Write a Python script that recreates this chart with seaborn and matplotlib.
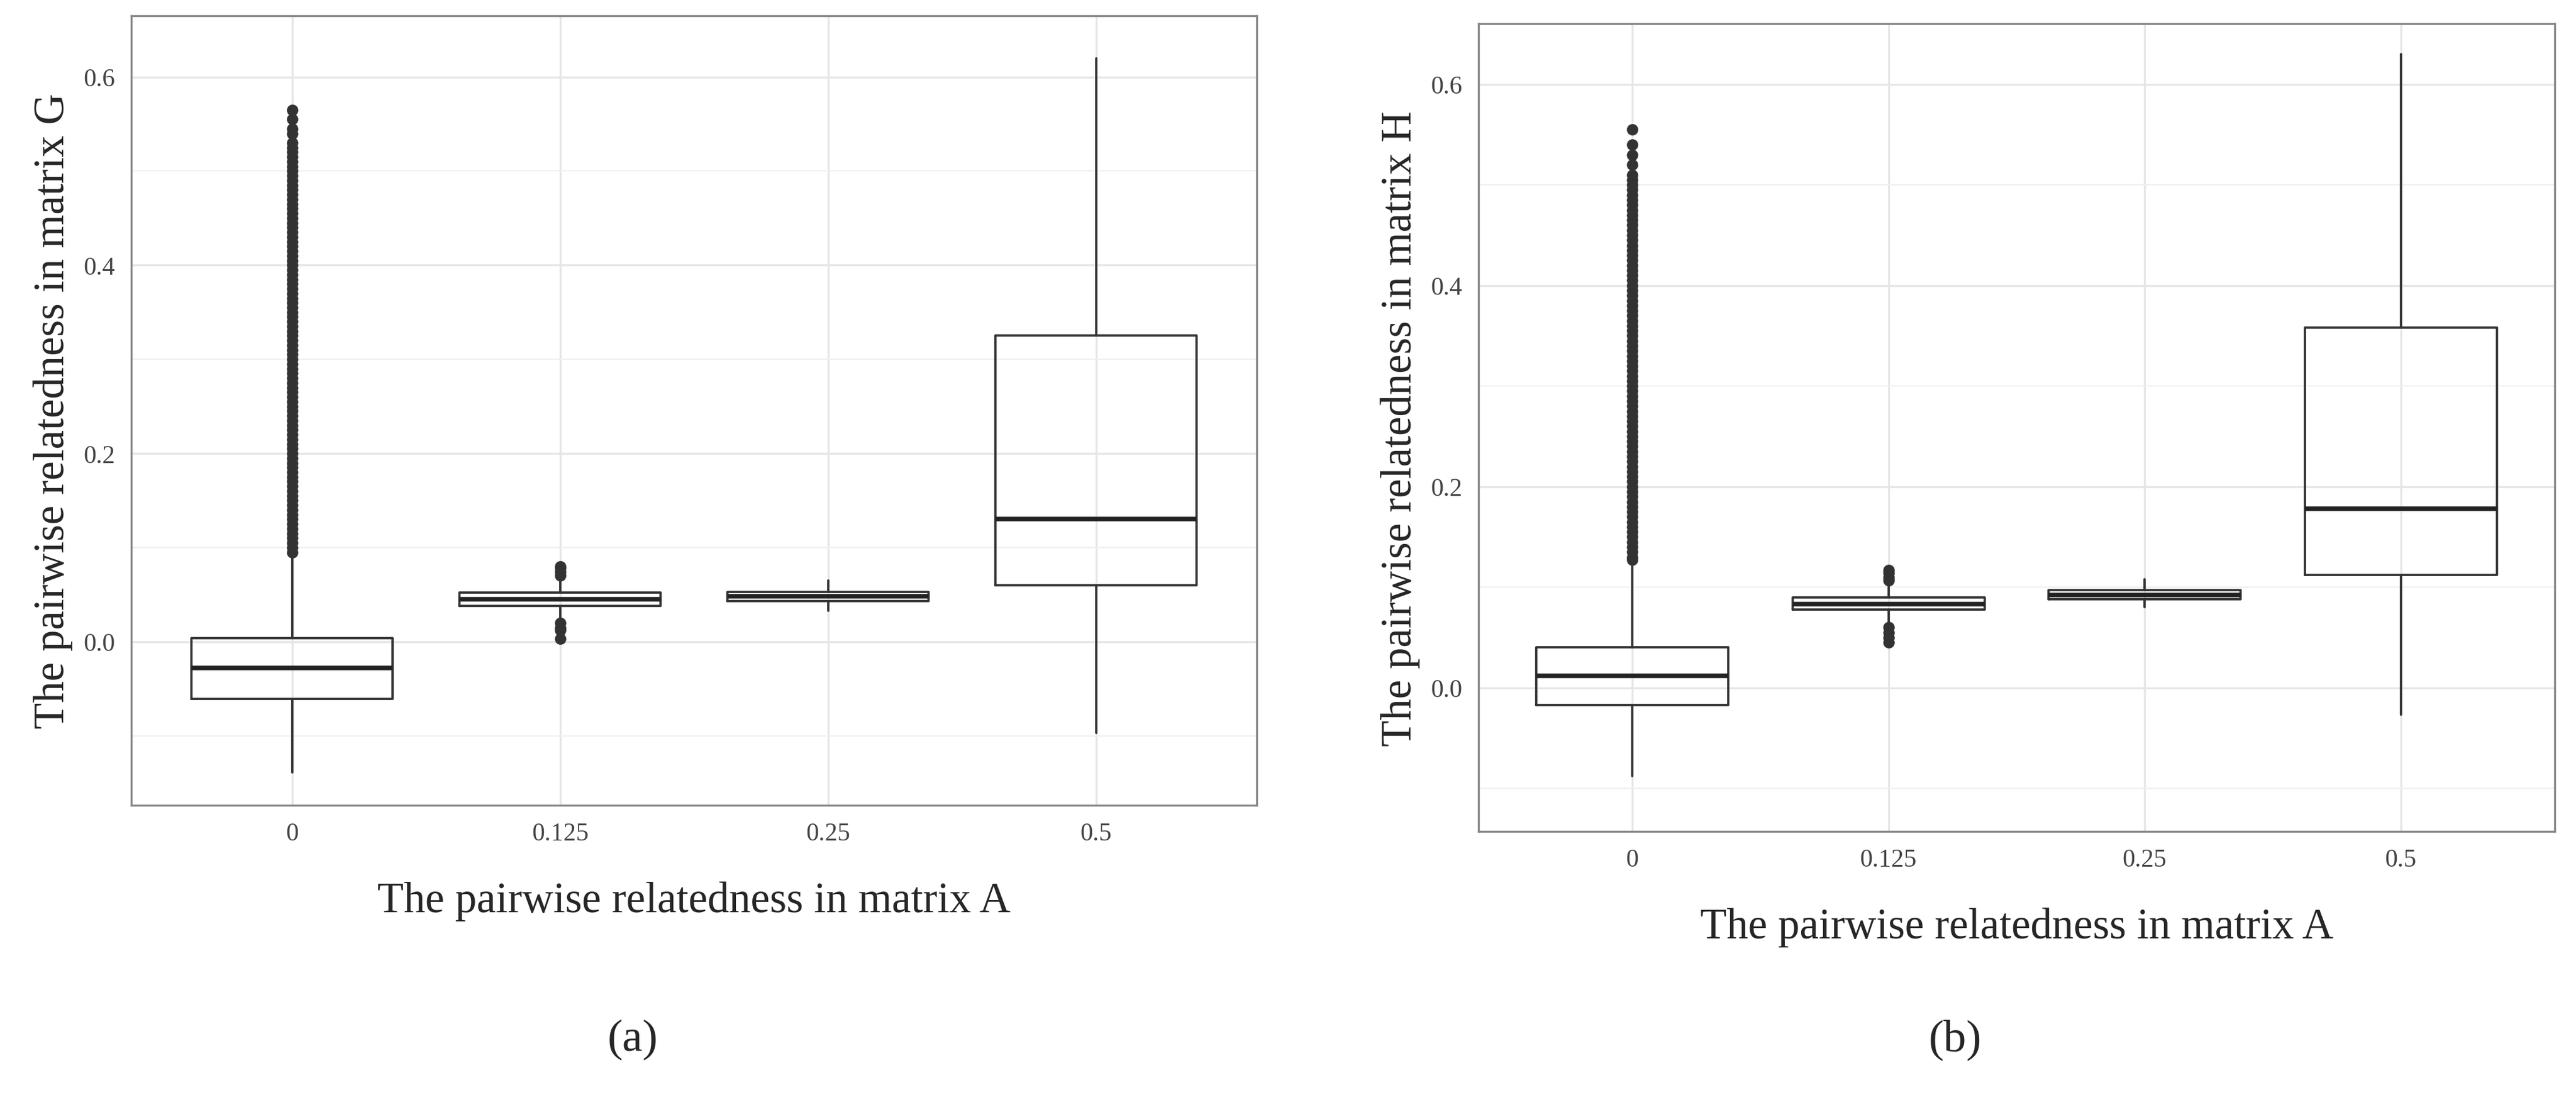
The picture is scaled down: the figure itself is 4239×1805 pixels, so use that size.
import numpy as np
import matplotlib.pyplot as plt
import seaborn as sns

categories = ["0", "0.125", "0.25", "0.5"]

# panel (a): matrix G
g_whislo = [-0.139, 0.025, 0.033, -0.097]
g_q1 = [-0.061, 0.038, 0.043, 0.060]
g_med = [-0.028, 0.045, 0.048, 0.130]
g_q3 = [0.004, 0.052, 0.053, 0.325]
g_whishi = [0.093, 0.065, 0.065, 0.620]
g_fliers = [
    [0.095, 0.10, 0.105, 0.11, 0.115, 0.12, 0.125, 0.13, 0.135, 0.14, 0.145,
     0.15, 0.155, 0.16, 0.165, 0.17, 0.175, 0.18, 0.185, 0.19, 0.195, 0.20,
     0.205, 0.21, 0.215, 0.22, 0.225, 0.23, 0.235, 0.24, 0.245, 0.25, 0.255,
     0.26, 0.265, 0.27, 0.275, 0.28, 0.285, 0.29, 0.295, 0.30, 0.305, 0.31,
     0.315, 0.32, 0.325, 0.33, 0.335, 0.34, 0.345, 0.35, 0.355, 0.36, 0.365,
     0.37, 0.375, 0.38, 0.385, 0.39, 0.395, 0.40, 0.405, 0.41, 0.415, 0.42,
     0.425, 0.43, 0.435, 0.44, 0.445, 0.45, 0.455, 0.46, 0.465, 0.47, 0.475,
     0.48, 0.485, 0.49, 0.495, 0.50, 0.505, 0.51, 0.515, 0.52, 0.525, 0.53,
     0.54, 0.545, 0.555, 0.565],
    [0.070, 0.074, 0.078, 0.080, 0.020, 0.015, 0.012, 0.003],
    [],
    [],
]

# panel (b): matrix H
h_whislo = [-0.088, 0.065, 0.080, -0.027]
h_q1 = [-0.017, 0.078, 0.088, 0.112]
h_med = [0.012, 0.083, 0.092, 0.178]
h_q3 = [0.040, 0.090, 0.097, 0.358]
h_whishi = [0.125, 0.105, 0.108, 0.630]
h_fliers = [
    [0.127, 0.13, 0.135, 0.14, 0.145, 0.15, 0.155, 0.16, 0.165, 0.17, 0.175,
     0.18, 0.185, 0.19, 0.195, 0.20, 0.205, 0.21, 0.215, 0.22, 0.225, 0.23,
     0.235, 0.24, 0.245, 0.25, 0.255, 0.26, 0.265, 0.27, 0.275, 0.28, 0.285,
     0.29, 0.295, 0.30, 0.305, 0.31, 0.315, 0.32, 0.325, 0.33, 0.335, 0.34,
     0.345, 0.35, 0.355, 0.36, 0.365, 0.37, 0.375, 0.38, 0.385, 0.39, 0.395,
     0.40, 0.405, 0.41, 0.415, 0.42, 0.425, 0.43, 0.435, 0.44, 0.445, 0.45,
     0.455, 0.46, 0.465, 0.47, 0.475, 0.48, 0.485, 0.49, 0.495, 0.50, 0.505,
     0.51, 0.52, 0.53, 0.54, 0.555],
    [0.107, 0.110, 0.114, 0.117, 0.060, 0.055, 0.050, 0.045],
    [],
    [],
]

sns.set_theme(style="whitegrid")
plt.rcParams["font.family"] = ["Liberation Serif", "DejaVu Serif"]

fig = plt.figure(figsize=(4239 / 300, 1806 / 300), dpi=300)
ax_a = fig.add_axes([80 / 1568, 1 - 492 / 670, 685 / 1568, 482 / 670])
ax_b = fig.add_axes([900 / 1568, 1 - 508 / 670, 655 / 1568, 493 / 670])


def draw(ax, wl, q1, med, q3, wh, fl, ylabel, ylim, tag, tag_x):
    stats = [dict(whislo=a, q1=b, med=c, q3=d, whishi=e, fliers=f, label=n)
             for a, b, c, d, e, f, n in zip(wl, q1, med, q3, wh, fl, categories)]
    ax.bxp(stats, positions=range(len(categories)), widths=0.75,
           boxprops=dict(color="#333333", linewidth=0.9),
           whiskerprops=dict(color="#333333", linewidth=0.9),
           capprops=dict(linewidth=0),
           medianprops=dict(color="#222222", linewidth=1.8),
           flierprops=dict(marker="o", markerfacecolor="#333333",
                           markeredgecolor="#333333", markersize=3.5))
    ax.set_xlim(-0.6, 3.6)
    ax.set_ylim(*ylim)
    ax.set_yticks([0.0, 0.2, 0.4, 0.6])
    ax.set_yticks([-0.1, 0.1, 0.3, 0.5], minor=True)
    ax.set_yticklabels(["0.0", "0.2", "0.4", "0.6"])
    ax.grid(True, which="major", color="#e6e6e6", linewidth=0.8)
    ax.grid(True, which="minor", axis="y", color="#f0f0f0", linewidth=0.5)
    ax.set_facecolor("white")
    for s in ax.spines.values():
        s.set_color("#888888")
        s.set_linewidth(0.8)
    ax.tick_params(labelsize=10, colors="#444444", length=3, which="major")
    ax.tick_params(which="minor", length=0)
    ax.set_xlabel("The pairwise relatedness in matrix A", fontsize=17, labelpad=14)
    ax.set_ylabel(ylabel, fontsize=17)
    fig.text(tag_x, 1 - 635 / 670, tag, ha="center", va="center", fontsize=18)


draw(ax_a, g_whislo, g_q1, g_med, g_q3, g_whishi, g_fliers,
     "The pairwise relatedness in matrix G", (-0.174, 0.665), "(a)", 385 / 1568)
draw(ax_b, h_whislo, h_q1, h_med, h_q3, h_whishi, h_fliers,
     "The pairwise relatedness in matrix H", (-0.143, 0.66), "(b)", 1190 / 1568)

fig.savefig("out.png", dpi=300, facecolor="white")
